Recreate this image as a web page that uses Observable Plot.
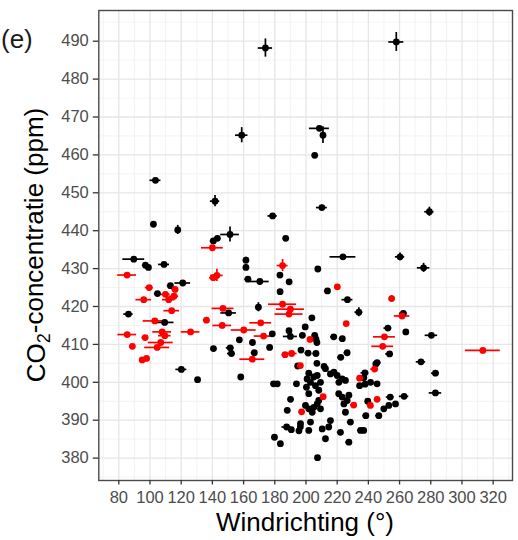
<!DOCTYPE html>
<html>
<head>
<meta charset="utf-8">
<script src="https://cdn.jsdelivr.net/npm/d3@7"></script>
<script src="https://cdn.jsdelivr.net/npm/@observablehq/plot@0.6"></script>
<style>
  html, body { margin: 0; padding: 0; background: #fff; }
  #chart svg { display: block; }
</style>
</head>
<body>
<div id="chart"></div>
<script>
// ---- Data ----
// Black observations
const blackWind = [174.0,257.9,158.8,208.6,210.9,205.6,103.5,141.7,210.2,279.1,178.6,102.2,117.8,151.3,187.0,140.6,143.2,223.7,260.3,89.6,97.1,99.0,109.0,161.5,161.5,207.6,275.4,183.3,162.8,170.4,121.0,113.1,189.2,183.4,213.8,104.8,226.6,169.5,233.9,86.2,150.4,262.4,203.8,109.4,199.5,252.5,264.0,189.1,178.4,190.0,197.7,205.6,206.4,207.0,217.8,223.3,280.4,157.3,165.7,140.7,151.4,152.2,176.7,196.8,201.4,206.4,166.9,226.4,222.3,253.6,273.7,245.6,207.0,158.2,120.1,130.5,194.7,211.6,244.8,283.0,237.8,237.1,283.0,262.9,254.0,179.2,181.6,190.1,188.0,187.6,190.6,196.4,195.5,196.5,201.8,202.9,179.8,183.6,207.4,193.9,201.8,200.7,202.9,205.0,207.2,209.3,200.3,206.1,201.8,208.2,212.5,215.7,217.9,220.0,223.2,225.3,221.1,241.4,245.6,234.4,237.9,257.4,253.1,249.9,246.7,238.4,235.0,237.0,239.6,221.0,223.2,224.3,225.3,226.4,227.5,228.5,222.1,227.5,215.7,214.6,210.4,212.5,199.7,201.8,205.0,207.2,209.3,204.0,208.2];
const blackCO2 = [488.2,489.8,465.2,467.0,465.2,459.9,453.3,447.8,446.1,445.0,443.9,441.7,440.2,439.0,438.0,437.3,438.0,433.1,433.1,432.5,430.9,430.3,431.1,432.2,430.3,429.9,430.2,428.3,427.2,426.6,426.2,425.5,426.5,423.9,424.1,423.4,421.8,419.8,418.5,418.0,418.3,418.2,417.0,415.8,414.6,414.3,413.3,413.6,412.8,412.1,412.4,412.4,411.4,410.5,412.0,411.5,412.4,411.2,410.5,408.9,409.1,407.6,409.2,408.5,407.7,407.6,407.8,407.8,406.6,407.5,405.4,405.2,405.0,401.4,403.4,400.7,404.3,404.2,404.8,402.4,402.5,401.2,397.2,396.3,396.1,399.6,399.6,395.5,392.6,388.2,387.5,388.3,387.2,389.1,387.3,389.5,385.5,383.8,380.1,399.6,402.4,400.9,400.0,401.4,401.8,400.0,398.7,399.1,397.0,397.9,403.6,402.2,402.7,401.8,400.9,400.5,400.0,400.0,399.6,399.1,399.5,394.3,393.9,393.0,391.2,391.2,387.3,387.3,395.0,397.0,396.1,394.3,392.1,395.2,396.6,389.5,386.8,384.2,389.9,388.2,387.7,385.1,393.9,393.0,393.4,394.3,393.0,392.1,395.2];
const blackWindErr = [4.6,4.8,4.0,6.4,1.5,1.5,3.5,3.0,3.5,3.0,3.0,1.5,1.5,6.0,1.5,2.0,2.0,8.3,3.0,7.0,2.0,2.0,3.5,1.5,1.5,1.5,4.0,1.5,2.0,6.0,5.0,2.0,1.5,1.5,2.0,2.0,3.5,1.5,2.5,3.0,5.0,2.5,1.5,6.0,1.5,2.5,1.5,1.5,1.5,4.5,1.5,1.5,1.5,1.5,2.0,2.0,4.0,1.5,1.5,1.5,2.5,2.5,1.5,1.5,2.0,2.0,2.0,2.0,2.0,2.5,3.0,2.5,1.5,1.5,3.5,1.5,1.5,1.5,1.5,2.5,2.5,2.0,4.0,3.0,2.5,1.5,1.5,1.5,1.5,3.0,1.5,1.5,1.5,1.5,1.5,1.5,1.5,1.5,1.5,1.5,1.5,1.5,1.5,1.5,1.5,1.5,1.5,1.5,1.5,1.5,1.5,1.5,1.5,1.5,1.5,1.5,1.5,1.5,2.0,1.5,1.5,1.5,1.5,1.5,2.0,2.0,2.0,2.0,1.5,1.5,1.5,1.5,1.5,1.5,1.5,2.0,2.0,2.0,1.5,1.5,1.5,1.5,1.5,1.5,1.5,1.5,1.5,1.5,1.5];
const blackCO2Err = [2.4,2.5,2.0,0.6,2.2,0.5,0.6,1.5,0.6,1.2,0.6,0.5,1.2,2.0,0.5,0.5,0.5,0.5,1.0,0.5,0.5,0.5,0.5,0.8,0.8,0.5,1.2,0.5,0.5,0.5,0.5,0.5,0.5,0.5,0.5,0.5,0.5,1.2,1.2,0.5,0.5,0.5,0.5,0.5,0.5,0.5,0.5,0.5,0.5,0.5,0.5,0.5,0.5,0.5,0.5,0.5,0.5,0.5,0.5,0.5,0.5,0.5,0.5,0.5,0.5,0.5,0.5,0.5,0.5,0.5,0.5,0.5,0.5,0.5,0.5,0.5,0.5,0.5,0.5,0.5,0.5,0.5,0.5,0.5,0.5,0.5,0.5,0.5,0.5,0.5,0.5,0.5,0.5,0.5,0.5,0.5,0.5,0.5,0.5,0.5,0.5,0.5,0.5,0.5,0.5,0.5,0.5,0.5,0.5,0.5,0.5,0.5,0.5,0.5,0.5,0.5,0.5,0.5,0.5,0.5,0.5,0.5,0.5,0.5,0.5,0.5,0.5,0.5,0.5,0.5,0.5,0.5,0.5,0.5,0.5,0.5,0.5,0.5,0.5,0.5,0.5,0.5,0.5,0.5,0.5,0.5,0.5,0.5,0.5];

// Red observations
const redWind = [85.3,99.5,96.0,109.9,112.0,116.1,115.4,113.9,103.1,107.8,109.5,85.4,96.9,88.7,106.9,104.6,95.0,97.8,126.0,136.2,140.0,140.6,142.9,146.8,146.3,160.1,165.6,171.0,172.8,185.0,185.0,190.0,189.1,186.6,190.8,196.4,197.2,202.6,211.0,220.1,225.8,230.6,234.4,241.3,245.6,244.0,254.9,250.3,249.2,261.6,313.4];
const redCO2 = [428.3,425.0,421.8,423.2,421.8,424.5,422.7,418.9,416.2,413.3,412.3,412.6,411.8,409.5,410.5,409.2,405.9,406.3,413.3,416.4,435.5,427.6,428.2,419.5,415.0,413.8,406.1,415.7,412.2,430.8,420.6,419.3,418.0,407.3,407.6,404.4,392.2,411.3,396.2,425.2,415.5,394.0,401.1,393.9,395.5,403.5,422.1,412.0,409.5,417.5,408.4];
const redWindErr = [6.0,2.5,5.0,3.0,4.0,2.0,3.0,5.0,7.5,6.0,4.0,6.0,2.0,1.5,8.0,8.0,1.5,2.0,6.0,2.0,7.0,2.5,4.0,7.0,6.0,8.0,8.0,7.0,6.0,3.5,9.0,9.0,9.0,2.0,3.5,1.5,1.5,1.5,1.5,1.5,1.5,2.0,1.5,2.0,1.5,2.5,1.5,7.0,7.0,5.0,11.2];
const redCO2Err = [0.5,0.5,0.5,0.5,0.5,0.5,0.5,0.5,0.5,0.5,0.5,0.5,0.5,0.5,0.5,0.5,0.5,0.5,0.5,0.5,0.5,0.7,1.6,0.5,0.5,0.5,0.5,0.5,0.5,1.6,0.5,0.5,0.5,0.5,0.5,0.5,0.5,0.5,0.5,0.5,0.5,0.5,0.5,0.5,0.5,0.5,0.8,0.5,0.5,0.5,0.5];

// Axis ticks
const xTicks = [80,100,120,140,160,180,200,220,240,260,280,300,320];
const yTicks = [380,390,400,410,420,430,440,450,460,470,480,490];
const xMinor = [70,90,110,130,150,170,190,210,230,250,270,290,310,330];
const yMinor = [375,385,395,405,415,425,435,445,455,465,475,485,495];

const xTitle = "Windrichting (°)";
const panelLabel = "(e)";

// ---- Build tables ----
const toRows = (w, c, we, ce, color) =>
  w.map((v, i) => ({wind: v, co2: c[i], we: we[i], ce: ce[i], color}));
const black = toRows(blackWind, blackCO2, blackWindErr, blackCO2Err, "#000000");
const red = toRows(redWind, redCO2, redWindErr, redCO2Err, "#ff0000");

const font = "'Liberation Sans', Arial, Helvetica, sans-serif";

function layers(data, color) {
  return [
    Plot.ruleY(data, {y: "co2", x1: d => d.wind - d.we, x2: d => d.wind + d.we, stroke: color, strokeWidth: 1.7}),
    Plot.ruleX(data, {x: "wind", y1: d => d.co2 - d.ce, y2: d => d.co2 + d.ce, stroke: color, strokeWidth: 1.7}),
  ];
}

const svg = Plot.plot({
  width: 518,
  height: 540,
  marginLeft: 98.3,
  marginRight: 6,
  marginTop: 10,
  marginBottom: 60,
  style: {fontFamily: font, background: "#fff"},
  x: {domain: [67.18, 332.4], label: null},
  y: {domain: [374.09, 498.1], label: null},
  marks: [
    Plot.gridX(xMinor, {stroke: "#f0f0f0", strokeOpacity: 1, strokeWidth: 0.8}),
    Plot.gridY(yMinor, {stroke: "#f0f0f0", strokeOpacity: 1, strokeWidth: 0.8}),
    Plot.gridX(xTicks, {stroke: "#e6e6e6", strokeOpacity: 1, strokeWidth: 1.3}),
    Plot.gridY(yTicks, {stroke: "#e6e6e6", strokeOpacity: 1, strokeWidth: 1.3}),
    ...layers(black, "#000000"),
    ...layers(red, "#ff0000"),
    Plot.dot(black, {x: "wind", y: "co2", r: 3.4, fill: "#000000", stroke: null}),
    Plot.dot(red, {x: "wind", y: "co2", r: 3.4, fill: "#ff0000", stroke: null}),
    Plot.frame({stroke: "#4a4a4a", strokeWidth: 1.4}),
    // tick marks
    Plot.axisX(xTicks, {tickSize: 4.5, tickFormat: () => "", color: "#333333", strokeWidth: 1.3, label: null}),
    Plot.axisY(yTicks, {tickSize: 5.5, tickFormat: () => "", color: "#333333", strokeWidth: 1.3, label: null}),
    // tick labels
    Plot.axisX(xTicks, {tickSize: 0, tickPadding: 11, fontSize: 16.5, color: "#4d4d4d", label: null}),
    Plot.axisY(yTicks, {tickSize: 0, tickPadding: 10, fontSize: 16.5, color: "#4d4d4d", label: null})
  ]
});

// Axis titles and panel label as real text
const s = d3.select(svg);
s.append("text")
  .attr("x", 305).attr("y", 531)
  .attr("text-anchor", "middle")
  .attr("fill", "#000")
  .style("font-family", font).style("font-size", "26px")
  .text(xTitle);

const yt = s.append("text")
  .attr("transform", "translate(45,245) rotate(-90)")
  .attr("text-anchor", "middle")
  .attr("fill", "#000")
  .style("font-family", font).style("font-size", "26px");
yt.append("tspan").text("CO");
yt.append("tspan").attr("dy", "0.3em").style("font-size", "18px").text("2");
yt.append("tspan").attr("dy", "-0.3em").text("-concentratie (ppm)");

s.append("text")
  .attr("x", 1).attr("y", 48)
  .attr("text-anchor", "start")
  .attr("fill", "#1a1a1a")
  .style("font-family", font).style("font-size", "26px")
  .text(panelLabel);

document.getElementById("chart").append(svg);
</script>
</body>
</html>
